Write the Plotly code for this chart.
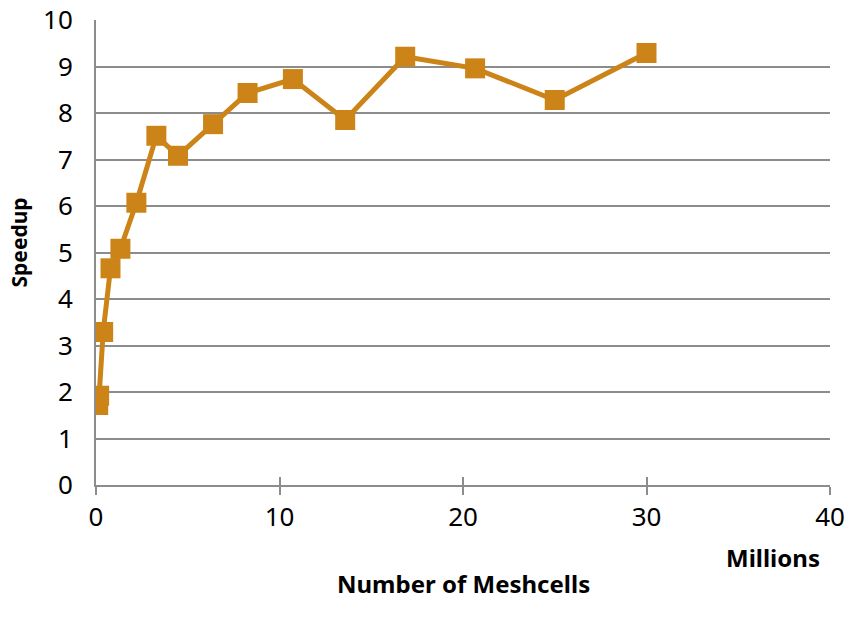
import plotly.graph_objects as go

meshcells_millions = [0.12, 0.17, 0.39, 0.79, 1.33, 2.2, 3.29, 4.47, 6.38, 8.26, 10.73, 13.58, 16.85, 20.66, 25.0, 30.0]
speedup = [1.72, 1.92, 3.29, 4.66, 5.08, 6.07, 7.51, 7.08, 7.76, 8.43, 8.73, 7.85, 9.21, 8.96, 8.28, 9.29]
x_ticks = [0, 10, 20, 30, 40]
y_ticks = list(range(0, 11))

color = "#CC8418"
grid = "#8C8C8C"
font_family = "Noto Sans"

fig = go.Figure()
fig.add_trace(go.Scatter(
    x=meshcells_millions, y=speedup, mode="lines+markers",
    line=dict(color=color, width=5),
    marker=dict(symbol="square", size=20, color=color),
    showlegend=False,
))
# invisible trace on overlaid axis to get crossing tick marks
fig.add_trace(go.Scatter(x=[0], y=[0], xaxis="x2", mode="markers",
                         marker=dict(opacity=0), showlegend=False, hoverinfo="skip"))

fig.update_layout(
    width=848, height=623,
    margin=dict(l=96, r=18, t=20, b=138, autoexpand=False),
    plot_bgcolor="white", paper_bgcolor="white",
    font=dict(family=font_family, size=26, color="#000000"),
    xaxis=dict(range=[0, 40], tickvals=x_ticks, showgrid=False, zeroline=False,
               showline=True, linecolor=grid, linewidth=2, automargin=False,
               ticks="outside", ticklen=8, tickwidth=2, tickcolor=grid,
               tickfont=dict(size=26), ticklabeloverflow="allow"),
    xaxis2=dict(range=[0, 40], tickvals=x_ticks, overlaying="x", anchor="y",
                side="bottom", showticklabels=False, showgrid=False, zeroline=False,
                showline=False, ticks="inside", ticklen=8, tickwidth=2, tickcolor=grid,
                automargin=False),
    yaxis=dict(range=[0, 10], tickvals=y_ticks, showgrid=True, gridcolor=grid, gridwidth=2,
               zeroline=False, showline=True, linecolor=grid, linewidth=2,
               ticks="", tickfont=dict(size=26), automargin=False,
               ticklabelstandoff=16, ticklabeloverflow="allow"),
    annotations=[
        dict(text="<b>Speedup</b>", xref="paper", yref="paper", x=0, y=0.5,
             xanchor="center", yanchor="middle",
             xshift=-78, yshift=10, textangle=-90, showarrow=False,
             font=dict(size=21)),
        dict(text="<b>Millions</b>", xref="paper", yref="paper", x=1, y=0,
             xanchor="right", yanchor="middle", xshift=-8, yshift=-72,
             showarrow=False, font=dict(size=24)),
        dict(text="<b>Number of Meshcells</b>", xref="paper", yref="paper", x=0.5, y=0,
             xanchor="center", yanchor="middle", yshift=-98,
             showarrow=False, font=dict(size=24)),
    ],
)
fig.write_html("out.html", config={"displayModeBar": False},
               post_script="document.body.style.margin='0px';")
